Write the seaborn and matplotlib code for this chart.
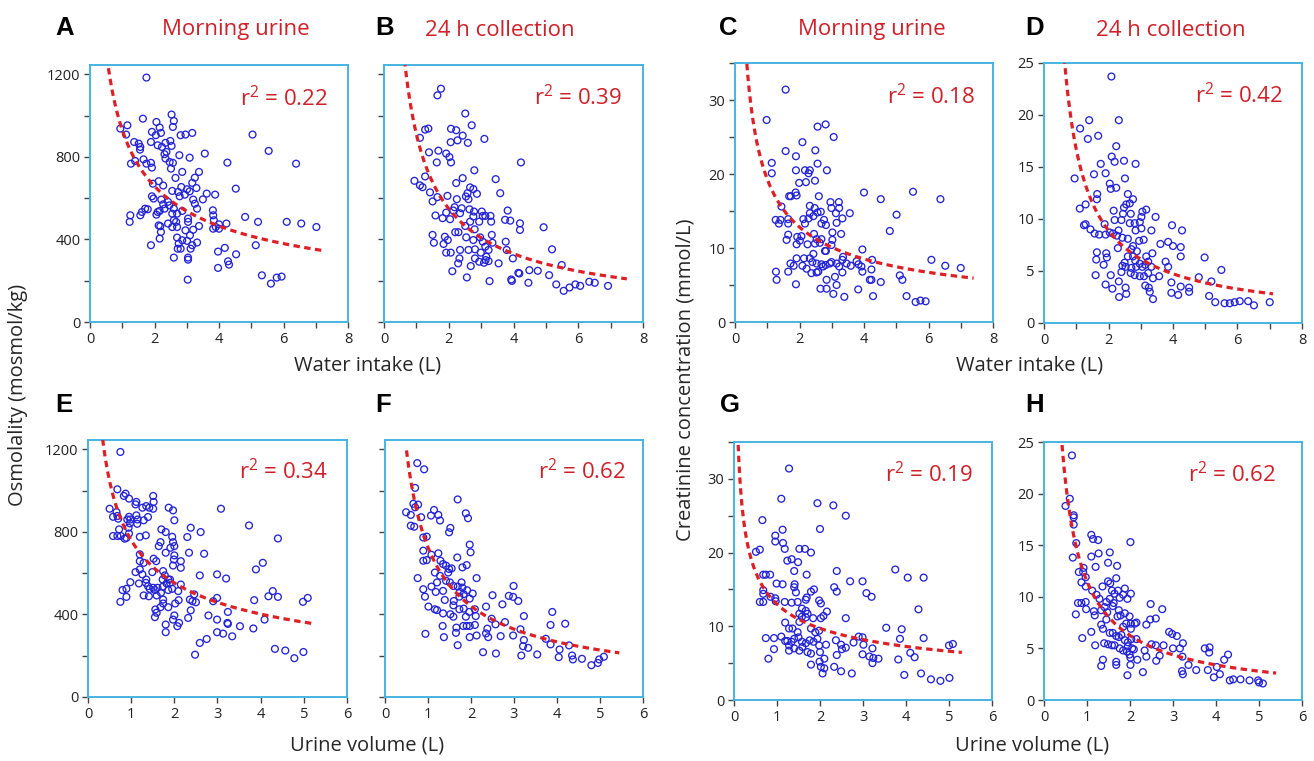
import numpy as np
import matplotlib
matplotlib.use("Agg")
import matplotlib.pyplot as plt
import seaborn as sns
from matplotlib.ticker import MultipleLocator, FuncFormatter

# ---------------- data ----------------
A_pts = [1.75,1184, 1.64,985, 1.16,953, 1.12,908, 0.94,937, 2.06,969, 2.53,1005, 2.60,974, 2.57,945,
         1.92,921, 2.04,905, 2.16,942, 2.20,916, 2.81,905, 2.96,908, 3.17,916, 1.37,872, 1.51,864,
         1.56,848, 1.55,835, 1.89,872, 2.10,856, 2.23,848, 2.34,868, 2.49,877, 2.53,853, 2.31,813,
         2.34,792, 2.37,824, 2.77,808, 3.09,796, 3.56,816, 1.27,767, 1.40,780, 1.66,788, 1.75,767,
         1.89,771, 1.92,748, 2.47,775, 2.57,771, 2.51,743, 4.26,772, 5.04,908, 5.54,829, 6.39,767,
         2.86,727, 2.65,698, 3.38,727, 3.25,699, 3.17,674, 1.95,670, 2.13,682, 2.27,661, 2.83,654,
         3.01,643, 2.55,635, 2.73,630, 2.94,617, 2.78,609, 3.09,633, 3.30,649, 3.62,622, 3.88,617,
         3.50,594, 4.52,646, 1.92,609, 1.97,598, 2.21,593, 2.27,570, 2.42,582, 2.46,565, 2.31,549,
         3.20,593, 3.25,573, 3.32,549, 1.71,549, 1.79,546, 1.61,533, 1.56,517, 1.25,517, 1.23,485,
         2.10,533, 2.06,520, 2.16,538, 2.60,549, 2.70,525, 2.55,525, 2.86,538, 3.81,541, 3.04,501,
         3.04,485, 2.60,493, 2.67,485, 2.55,460, 2.70,460, 2.13,468, 2.18,464, 2.20,436, 2.16,404,
         1.89,372, 2.42,477, 3.38,465, 3.20,447, 2.96,444, 3.10,420, 2.86,396, 3.01,393, 3.17,372,
         3.32,385, 3.12,355, 2.70,409, 2.75,380, 2.81,355, 2.72,355, 2.60,312, 3.04,312, 3.04,302,
         3.03,205, 3.82,517, 3.84,493, 3.82,452, 3.90,460, 4.00,473, 4.00,452, 4.23,477, 4.81,509,
         5.21,485, 6.10,485, 6.55,477, 7.02,460, 5.14,372, 4.53,328, 4.18,359, 3.97,341, 4.28,294,
         4.31,278, 3.97,262, 5.33,226, 5.61,186, 5.79,215, 5.94,220]

B_pts = [1.76,1130, 1.65,1098, 2.51,1010, 2.71,953, 1.27,932, 1.37,937, 2.07,936, 2.23,929, 1.11,892,
         2.06,871, 2.27,880, 2.43,903, 2.59,868, 3.10,887, 1.39,822, 1.68,830, 1.92,816, 2.02,799,
         2.07,773, 1.63,773, 4.23,773, 2.79,735, 1.27,705, 2.43,697, 2.23,673, 0.94,684, 1.11,662,
         1.19,653, 1.42,628, 1.50,584, 1.65,605, 1.96,611, 3.45,692, 3.59,624, 2.66,652, 2.76,644,
         2.87,621, 2.58,624, 2.53,608, 2.61,595, 2.25,595, 2.40,551, 2.18,556, 1.59,516, 1.81,503,
         1.92,530, 2.04,498, 2.14,540, 2.35,527, 2.64,546, 2.78,535, 3.02,535, 3.05,514, 3.13,514,
         3.29,514, 3.31,486, 2.94,486, 2.76,511, 2.66,486, 3.82,540, 3.74,495, 3.90,491, 4.20,478,
         4.20,446, 4.93,459, 5.19,352, 2.20,435, 2.30,435, 2.54,410, 1.50,422, 1.54,384, 1.84,378,
         1.88,413, 1.97,397, 2.51,465, 2.80,449, 2.76,397, 2.97,410, 3.05,389, 3.13,365, 3.33,422,
         3.35,384, 3.23,349, 3.16,316, 3.23,295, 3.09,287, 1.92,336, 2.06,336, 2.35,349, 2.61,349,
         2.81,352, 2.99,336, 2.33,308, 2.29,284, 2.68,271, 2.81,308, 2.94,292, 3.14,300, 3.76,389,
         3.79,349, 3.98,308, 3.54,284, 2.11,246, 2.56,216, 3.26,198, 3.93,206, 3.95,199, 4.15,238,
         4.18,235, 4.46,190, 4.49,251, 4.75,248, 5.10,227, 5.32,182, 5.49,276, 5.55,151, 5.73,167,
         5.91,182, 6.06,175, 6.34,195, 6.51,190, 6.92,175]

C_pts = [1.57,31.4, 0.98,27.3, 2.81,26.7, 2.56,26.4, 3.06,25.0, 2.09,24.3, 2.49,23.2, 1.57,23.1,
         1.89,22.4, 1.14,21.5, 2.56,21.4, 1.14,20.1, 1.89,20.5, 2.17,20.5, 2.32,20.5, 2.85,20.5,
         2.28,20.1, 1.99,18.8, 2.20,18.9, 2.48,19.1, 1.88,17.5, 1.91,17.1, 1.68,17.0, 1.73,17.0,
         2.60,17.0, 4.00,17.5, 4.52,16.6, 5.52,17.6, 6.37,16.6, 1.44,15.6, 2.32,15.7, 2.47,15.4,
         2.96,16.2, 3.22,16.2, 2.99,15.4, 3.23,15.4, 3.13,14.7, 3.56,14.7, 5.01,14.5, 1.26,13.8,
         1.36,13.3, 1.41,13.8, 1.65,13.9, 1.65,13.3, 2.12,13.9, 2.17,13.3, 2.28,14.0, 2.32,14.7,
         2.43,14.3, 2.56,14.8, 2.66,14.9, 2.76,13.8, 2.82,13.1, 2.68,13.3, 3.15,13.4, 3.33,14.0,
         3.29,11.9, 3.02,12.1, 4.80,12.3, 1.60,11.1, 1.65,11.8, 1.93,11.5, 2.06,11.6, 2.01,11.0,
         2.45,11.9, 2.53,11.2, 2.68,11.2, 2.63,10.7, 1.91,10.5, 2.25,10.5, 2.48,10.6, 3.02,11.1,
         2.99,10.4, 2.82,9.6, 2.79,9.6, 3.95,9.8, 2.43,9.2, 1.91,8.6, 2.14,8.6, 2.32,8.6, 1.72,7.9,
         1.82,7.6, 2.09,7.6, 2.22,7.2, 2.40,8.1, 2.53,7.9, 2.68,7.8, 2.73,7.5, 2.58,6.8, 2.81,7.7,
         2.99,8.1, 3.15,7.9, 3.23,7.5, 3.33,8.4, 3.35,8.8, 3.46,7.9, 3.59,7.6, 3.77,8.2, 3.83,7.8,
         3.92,7.5, 3.95,6.8, 4.25,8.4, 4.23,7.1, 1.27,6.8, 1.29,5.7, 1.65,6.8, 1.89,5.1, 2.84,5.7,
         2.65,4.5, 2.84,4.5, 3.10,6.1, 3.05,3.8, 3.15,5.0, 3.33,6.7, 3.39,3.4, 3.82,4.4, 4.18,5.7,
         4.23,5.7, 4.52,5.4, 4.28,3.5, 5.11,6.3, 5.19,5.7, 5.32,3.5, 5.60,2.7, 5.75,2.9, 5.91,2.8,
         6.09,8.4, 6.52,7.6, 7.00,7.3, 2.37,6.6, 2.53,6.7, 2.94,7.9]

D_pts = [2.09,23.7, 1.40,19.5, 2.32,19.5, 1.12,18.7, 1.36,17.7, 1.68,18.0, 2.24,17.0, 2.10,16.0,
         2.19,15.5, 2.48,15.6, 2.84,15.3, 1.76,15.3, 0.95,13.9, 1.55,14.3, 1.91,14.4, 2.51,13.9,
         2.04,13.4, 2.24,13.0, 2.07,12.9, 1.65,12.4, 1.64,11.9, 2.60,12.4, 2.76,11.9, 2.66,11.5,
         1.11,11.0, 1.29,11.4, 2.48,11.1, 2.55,11.4, 2.16,10.8, 3.05,10.7, 3.17,10.9, 2.45,10.5,
         2.69,10.5, 2.19,9.9, 2.40,9.9, 3.02,10.2, 3.46,10.2, 1.24,9.4, 1.29,9.5, 1.44,9.0, 1.57,8.6,
         1.71,8.5, 1.88,9.5, 1.91,8.5, 2.04,8.7, 2.14,8.6, 2.26,8.4, 2.31,8.9, 2.66,9.6, 2.81,9.6,
         2.97,9.7, 2.84,8.9, 3.02,9.1, 3.33,8.9, 3.97,9.4, 4.28,8.9, 2.29,7.2, 2.43,8.2, 2.60,8.1,
         2.76,7.4, 2.71,7.1, 2.88,6.9, 2.95,7.9, 3.09,8.0, 3.61,7.6, 3.85,7.8, 4.00,7.4, 4.24,7.3,
         4.24,6.4, 1.64,6.8, 1.93,6.7, 1.95,6.3, 1.62,6.1, 1.85,5.6, 2.60,6.4, 2.76,6.4, 2.83,6.0,
         2.97,5.7, 3.17,6.4, 3.36,6.7, 3.23,5.9, 2.50,5.8, 2.43,5.5, 2.53,5.4, 2.71,5.3, 2.86,5.4,
         3.05,5.4, 3.14,5.6, 3.33,5.4, 3.77,5.9, 3.85,5.4, 4.98,6.3, 5.50,5.1, 1.60,4.6, 2.07,4.6,
         2.40,4.9, 2.69,4.8, 2.81,4.6, 2.97,4.5, 3.10,4.5, 3.23,4.8, 3.38,4.3, 3.57,4.5, 4.80,4.4,
         1.91,3.7, 2.12,3.3, 2.32,4.0, 2.53,3.4, 2.55,2.8, 2.33,2.5, 3.14,3.6, 3.25,3.4, 3.28,3.0,
         3.38,2.3, 3.95,3.9, 3.95,2.9, 4.16,2.7, 4.24,3.5, 4.50,3.4, 4.50,3.0, 5.19,4.0, 5.12,2.6,
         5.31,2.0, 5.60,1.9, 5.76,1.9, 5.91,2.0, 6.07,2.1, 6.33,2.1, 6.51,1.7, 7.00,2.0]

E_pts = [0.75,1187, 0.68,1006, 0.87,985, 0.83,974, 0.95,961, 1.12,945, 1.10,933, 1.51,974, 1.52,945,
         1.42,917, 1.51,912, 1.26,917, 1.35,925, 0.50,912, 0.66,896, 0.58,873, 0.70,864, 0.68,877,
         0.95,873, 0.98,860, 0.91,860, 1.12,880, 1.15,860, 1.29,856, 1.39,872, 1.14,839, 1.87,917,
         1.97,904, 2.00,856, 3.08,912, 0.97,841, 0.94,820, 0.95,792, 0.89,771, 0.85,767, 0.58,780,
         0.68,780, 0.72,812, 0.76,780, 1.20,776, 1.34,783, 1.70,812, 1.80,799, 1.95,776, 1.97,750,
         2.00,731, 1.91,723, 1.68,750, 1.64,731, 1.80,699, 2.38,820, 2.61,799, 3.73,831, 4.40,768,
         2.30,775, 2.34,699, 2.69,694, 4.05,650, 3.89,618, 1.20,691, 1.20,658, 1.29,650, 1.52,670,
         1.58,658, 2.00,686, 1.99,666, 1.97,637, 2.15,658, 2.15,626, 1.10,605, 1.20,618, 1.26,594,
         1.35,569, 1.34,553, 1.49,605, 1.74,610, 1.78,589, 1.86,569, 1.90,553, 1.73,569, 1.90,569,
         1.82,550, 1.73,534, 2.59,589, 2.99,594, 3.20,574, 0.98,556, 1.18,550, 0.80,518, 0.89,524,
         0.89,485, 0.75,461, 1.39,537, 1.43,524, 1.51,529, 1.29,492, 1.41,488, 1.55,518, 1.59,492,
         1.61,529, 1.69,505, 1.74,472, 1.86,518, 1.95,524, 2.09,513, 2.15,545, 2.10,469, 2.02,453,
         1.74,453, 1.68,435, 1.56,424, 1.59,408, 1.55,387, 1.86,435, 1.80,351, 1.80,314, 1.97,375,
         2.00,395, 2.07,343, 2.11,359, 2.36,472, 2.42,464, 2.50,459, 2.46,497, 2.38,420, 2.32,383,
         2.99,480, 2.90,464, 2.79,395, 2.99,375, 3.24,412, 3.23,359, 3.24,354, 2.99,314, 3.13,307,
         3.34,294, 3.52,343, 3.83,332, 3.85,469, 2.75,281, 2.59,262, 2.48,205, 4.09,375, 4.18,488,
         4.28,513, 4.40,485, 4.98,461, 5.09,480, 4.33,233, 4.57,225, 4.78,188, 4.99,218]

F_pts = [0.75,1133, 0.91,1103, 0.70,1013, 1.69,957, 0.49,895, 0.60,882, 0.66,936, 0.77,932, 0.70,919,
         0.84,871, 0.68,825, 0.60,830, 1.14,906, 1.07,879, 1.24,882, 1.28,855, 1.88,890, 1.93,866,
         0.89,773, 0.97,777, 1.52,819, 1.49,798, 0.89,709, 0.89,660, 0.97,663, 1.08,689, 1.24,696,
         1.29,660, 1.68,676, 1.80,628, 1.90,639, 1.97,738, 1.99,701, 1.35,644, 1.42,636, 1.49,620,
         1.55,623, 1.47,603, 1.16,603, 1.28,587, 0.76,576, 0.89,522, 0.93,486, 1.08,535, 1.18,509,
         1.21,555, 1.35,514, 1.42,563, 1.51,555, 1.59,538, 1.69,535, 1.78,555, 1.80,530, 1.91,517,
         2.04,501, 2.13,576, 1.39,470, 1.60,465, 1.59,444, 1.73,486, 1.74,509, 1.83,498, 1.97,477,
         1.01,438, 1.16,425, 1.21,421, 1.35,405, 1.52,401, 1.59,389, 1.73,425, 1.83,428, 1.88,389,
         1.96,412, 2.09,425, 2.11,392, 1.34,344, 1.37,290, 1.66,336, 1.65,311, 1.69,251, 1.82,344,
         1.90,344, 1.97,344, 2.09,349, 1.97,290, 2.13,298, 0.94,306, 2.35,438, 2.48,379, 2.50,493,
         2.57,352, 2.38,331, 2.40,290, 2.35,308, 2.73,449, 2.79,363, 2.69,295, 2.88,490, 2.99,538,
         2.98,485, 3.10,465, 2.28,217, 2.58,211, 2.98,298, 3.15,328, 3.23,392, 3.23,276, 3.21,246,
         3.33,238, 3.17,201, 3.54,206, 3.74,282, 3.85,255, 3.85,349, 3.89,412, 4.06,230, 4.04,193,
         4.19,355, 4.28,250, 4.35,201, 4.37,182, 4.58,185, 4.80,154, 4.95,165, 4.98,182, 5.09,195]

G_pts = [1.28,31.4, 1.10,27.3, 1.94,26.7, 2.31,26.4, 2.60,25.0, 0.66,24.4, 1.13,23.1, 2.00,23.2,
         0.96,22.3, 0.96,21.5, 1.14,21.3, 1.18,20.5, 0.51,20.1, 0.60,20.4, 1.52,20.5, 1.65,20.5,
         1.79,20.0, 1.24,18.9, 1.34,19.1, 1.49,18.7, 1.40,17.5, 1.69,17.0, 0.68,17.0, 0.74,17.0,
         0.84,17.0, 2.39,17.5, 2.70,16.1, 3.75,17.7, 4.04,16.6, 4.41,16.6, 2.99,16.1, 0.99,15.8,
         1.13,15.7, 1.41,15.7, 1.40,15.3, 1.44,14.6, 0.68,14.9, 0.68,14.4, 0.60,13.3, 0.68,13.3,
         0.85,14.0, 0.96,13.8, 0.97,13.4, 1.18,13.3, 1.34,13.2, 1.48,13.3, 1.69,13.9, 1.67,13.6,
         1.79,14.7, 1.86,15.0, 1.98,13.5, 2.02,13.1, 2.33,15.3, 2.39,14.7, 3.08,14.5, 3.20,14.0,
         1.58,12.4, 1.67,12.1, 1.71,11.7, 1.52,11.7, 1.58,11.3, 1.67,11.2, 1.52,10.6, 1.84,11.1,
         2.02,11.1, 2.08,11.4, 2.16,12.0, 2.60,11.1, 4.29,12.3, 1.19,10.5, 1.28,9.7, 1.36,9.7,
         1.48,9.2, 1.79,9.7, 1.89,9.2, 1.98,9.4, 3.54,9.8, 3.90,9.6, 0.74,8.4, 0.93,8.4, 1.10,8.6,
         1.19,8.0, 1.24,8.0, 1.34,7.9, 1.28,7.4, 1.40,8.3, 1.50,8.5, 1.58,7.9, 1.67,7.7, 1.76,8.1,
         1.85,7.9, 1.94,8.3, 1.28,6.7, 1.40,7.0, 1.52,6.7, 1.59,7.2, 1.71,6.5, 1.79,6.3, 2.00,6.5,
         1.98,7.4, 2.14,7.5, 2.37,8.1, 2.49,7.5, 2.60,7.1, 2.39,6.1, 2.51,6.9, 2.78,7.8, 2.90,8.6,
         2.99,8.5, 3.01,7.5, 3.22,7.0, 2.99,6.2, 3.15,5.9, 3.24,5.7, 3.36,5.6, 3.22,5.0, 3.86,8.3,
         4.10,6.4, 4.20,5.8, 3.82,5.5, 4.41,8.4, 0.80,5.6, 0.93,6.9, 1.79,4.8, 1.99,5.2, 2.02,4.5,
         2.10,5.6, 2.10,4.3, 2.06,3.6, 2.33,4.5, 2.49,3.9, 2.74,3.6, 3.96,3.4, 4.35,3.6, 4.58,2.8,
         4.80,2.6, 5.01,3.0, 5.00,7.4, 5.09,7.6]

H_pts = [0.65,23.7, 0.60,19.5, 0.50,18.8, 0.69,17.9, 0.69,17.7, 0.69,17.0, 0.75,15.2, 0.67,13.8,
         2.01,15.3, 1.10,16.0, 1.14,15.6, 1.26,15.5, 1.10,13.9, 1.27,14.2, 1.53,14.3, 1.49,13.3,
         1.20,12.9, 1.70,13.0, 0.81,12.4, 0.91,12.4, 0.92,12.8, 0.97,11.9, 0.87,11.4, 0.97,11.0,
         1.49,11.5, 1.54,11.3, 1.68,11.8, 1.36,11.0, 1.12,10.6, 1.22,10.2, 1.29,9.8, 1.58,10.6,
         1.64,10.3, 1.72,10.6, 1.88,10.8, 1.76,9.9, 1.84,10.2, 1.94,9.8, 2.02,10.3, 1.53,9.8,
         1.62,9.4, 0.79,9.4, 0.87,9.4, 0.97,9.5, 0.98,8.8, 0.74,8.3, 1.16,8.6, 1.18,8.2, 1.33,8.7,
         1.45,9.5, 1.41,9.0, 1.47,8.5, 1.60,9.1, 1.74,8.7, 1.78,8.2, 1.88,8.4, 1.71,8.1, 1.99,8.1,
         1.33,7.3, 1.45,7.8, 1.37,6.9, 1.84,7.1, 1.91,7.4, 2.02,7.4, 2.02,6.9, 2.15,7.5, 2.11,7.4,
         2.38,7.3, 2.47,7.8, 2.60,7.9, 2.48,9.3, 2.75,8.8, 1.10,6.6, 0.89,6.0, 1.53,6.5, 1.60,6.5,
         1.68,6.2, 1.74,6.1, 1.80,6.3, 1.88,5.8, 1.95,5.6, 2.03,5.9, 2.15,5.9, 1.95,5.2, 2.05,5.0,
         1.19,5.3, 1.40,5.5, 1.49,5.4, 1.58,5.3, 1.64,5.3, 1.76,5.0, 1.84,4.8, 1.93,4.7, 1.99,4.4,
         2.01,4.1, 2.09,4.9, 2.17,3.9, 1.68,3.7, 1.68,3.4, 1.37,3.9, 1.33,3.3, 2.01,3.4, 1.94,2.4,
         2.30,2.7, 2.34,4.8, 2.38,4.2, 2.50,5.4, 2.60,5.3, 2.61,3.8, 2.69,4.3, 2.78,5.3, 2.91,6.6,
         2.98,6.4, 3.00,5.0, 3.09,6.2, 3.16,5.0, 3.23,5.5, 3.22,4.2, 3.21,2.8, 3.23,2.5, 3.36,3.4,
         3.54,2.9, 3.74,5.0, 3.85,5.1, 3.84,4.6, 3.81,2.9, 3.95,2.2, 4.02,3.2, 4.09,2.5, 4.19,3.9,
         4.28,4.4, 4.32,1.9, 4.40,2.0, 4.57,2.0, 4.78,1.9, 4.98,1.9, 5.00,1.7, 5.09,1.6]

# power-law fit curves y = a * x^-b (a, b, x_start, x_end)
fits = {"A": (930, 0.50, 0.45, 7.2), "B": (910, 0.73, 0.60, 7.5),
        "C": (19.3, 0.59, 0.30, 7.4), "D": (16.7, 0.91, 0.60, 7.1),
        "E": (760, 0.46, 0.34, 5.2), "F": (725, 0.72, 0.50, 5.45),
        "G": (13.0, 0.42, 0.08, 5.3), "H": (11.5, 0.88, 0.40, 5.4)}
r2_labels = {"A": "0.22", "B": "0.39", "C": "0.18", "D": "0.42",
             "E": "0.34", "F": "0.62", "G": "0.19", "H": "0.62"}
titles = {"A": "Morning urine", "B": "24 h collection",
          "C": "Morning urine", "D": "24 h collection"}
points = {"A": A_pts, "B": B_pts, "C": C_pts, "D": D_pts,
          "E": E_pts, "F": F_pts, "G": G_pts, "H": H_pts}

# ---------------- style ----------------
sns.set_style("white")
plt.rcParams["font.family"] = ["Open Sans", "DejaVu Sans"]
plt.rcParams["mathtext.fontset"] = "custom"
plt.rcParams["mathtext.rm"] = "Open Sans"

W, H = 1314, 761
BLUE = "#2323d6"
RED = "#dd1f26"
TXTRED = "#cf2029"
FRAME = "#45b4e2"

fig = plt.figure(figsize=(W / 100, H / 100), dpi=100)

# pixel rectangles (left, top, right, bottom)
rects = {"A": (90, 65, 348, 322), "B": (384, 65, 643, 322),
         "C": (735, 63, 993, 322), "D": (1044, 63, 1302, 323),
         "E": (88, 440, 347, 697), "F": (385, 440, 643, 697),
         "G": (734, 442, 992, 700), "H": (1044, 442, 1302, 700)}

cfg = {
    # xmax, ymax, ystep, ylabel_every, xlabel_every, show_ylabels
    "A": (8, 1245, 200, 400, 2, True), "B": (8, 1245, 200, 400, 2, False),
    "C": (8, 35, 5, 10, 2, True), "D": (8, 25, 5, 5, 2, True),
    "E": (6, 1245, 200, 400, 1, True), "F": (6, 1245, 200, 400, 1, False),
    "G": (6, 35, 5, 10, 1, True), "H": (6, 25, 5, 5, 1, True),
}

def every(n):
    def f(v, pos):
        if abs(v / n - round(v / n)) < 1e-6:
            return f"{int(round(v))}"
        return ""
    return FuncFormatter(f)

for key, (l, t, r, b) in rects.items():
    ax = fig.add_axes([l / W, 1 - b / H, (r - l) / W, (b - t) / H])
    pts = np.array(points[key], dtype=float).reshape(-1, 2)
    sns.scatterplot(x=pts[:, 0], y=pts[:, 1], ax=ax, marker="o", s=24,
                    facecolors="none", edgecolor=BLUE, linewidth=0.95,
                    legend=False, zorder=2)
    a, bexp, x0, x1 = fits[key]
    xs = np.linspace(x0, x1, 300)
    sns.lineplot(x=xs, y=a * xs ** (-bexp), ax=ax, color=RED, linewidth=2.3,
                 linestyle=(0, (2.0, 1.4)), legend=False, errorbar=None, zorder=3)
    xmax, ymax, ystep, ylab, xlab, showy = cfg[key]
    ax.set_xlim(0, xmax)
    ax.set_ylim(0, ymax)
    ax.xaxis.set_major_locator(MultipleLocator(1))
    ax.yaxis.set_major_locator(MultipleLocator(ystep))
    ax.xaxis.set_major_formatter(every(xlab))
    if showy:
        ax.yaxis.set_major_formatter(every(ylab))
    else:
        ax.yaxis.set_major_formatter(FuncFormatter(lambda v, p: ""))
    ax.tick_params(axis="both", which="major", direction="out", length=4.5,
                   width=1.0, color="#444444", labelsize=10.5, pad=2.5,
                   labelcolor="#222222", bottom=True, left=True, top=False, right=False)
    for sp in ax.spines.values():
        sp.set_color(FRAME)
        sp.set_linewidth(1.4)
    ax.set_xlabel("")
    ax.set_ylabel("")

# r^2 annotations (right edge px, baseline px)
r2_pos = {"A": (328, 106), "B": (622, 105), "C": (975, 104), "D": (1283, 103),
          "E": (328, 479), "F": (626, 479), "G": (973, 482), "H": (1276, 482)}
for key, (px, py) in r2_pos.items():
    fig.text(px / W, 1 - py / H, r"r$^{\mathregular{2}}$ = " + r2_labels[key],
             ha="right", va="baseline", fontsize=16, color=TXTRED)

# panel titles
title_pos = {"A": 236, "B": 500, "C": 872, "D": 1171}
for key, px in title_pos.items():
    fig.text(px / W, 1 - 30 / H, titles[key], ha="center", va="center",
             fontsize=16, color=TXTRED)

# panel letters
letter_pos = {"A": (55, 28), "B": (375, 28), "C": (719, 28), "D": (1025, 28),
              "E": (55, 405), "F": (375, 405), "G": (720, 405), "H": (1025, 405)}
for key, (px, py) in letter_pos.items():
    fig.text(px / W, 1 - py / H, key, ha="left", va="center", fontsize=18.5,
             fontweight="bold", family=["Liberation Sans", "DejaVu Sans"], color="black")

# axis labels
LAB = 14.5
fig.text(368 / W, 1 - 366 / H, "Water intake (L)", ha="center", va="center", fontsize=LAB)
fig.text(1030 / W, 1 - 366 / H, "Water intake (L)", ha="center", va="center", fontsize=LAB)
fig.text(367 / W, 1 - 746 / H, "Urine volume (L)", ha="center", va="center", fontsize=LAB)
fig.text(1032 / W, 1 - 746 / H, "Urine volume (L)", ha="center", va="center", fontsize=LAB)
fig.text(18 / W, 1 - 395 / H, "Osmolality (mosmol/kg)", ha="center", va="center",
         rotation=90, fontsize=LAB)
fig.text(686 / W, 1 - 380 / H, "Creatinine concentration (mmol/L)", ha="center",
         va="center", rotation=90, fontsize=LAB)

fig.savefig("out.png", dpi=100, facecolor="white")
